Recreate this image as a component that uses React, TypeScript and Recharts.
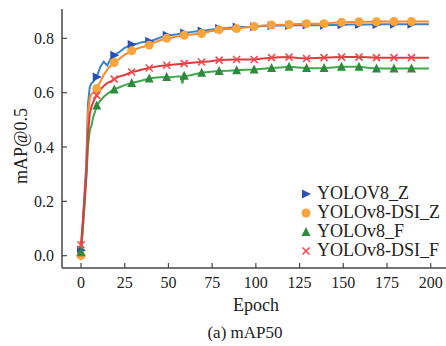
import React from 'react'
import { Line, LineChart, XAxis, YAxis } from 'recharts'

const epochs = [0, 1, 2, 3, 4, 5, 6, 7, 8, 9, 11, 13, 15, 17, 19, 22, 25, 29, 32, 35, 39, 42, 45, 49, 52, 55, 57, 58, 59, 62, 65, 69, 74, 79, 84, 89, 94, 99, 104, 109, 114, 119, 124, 129, 134, 139, 144, 149, 154, 159, 164, 169, 174, 179, 184, 189, 194, 199]

const yolov8Z = [0.02, 0.12, 0.23, 0.34, 0.56, 0.62, 0.635, 0.64, 0.65, 0.658, 0.695, 0.714, 0.7, 0.725, 0.738, 0.75, 0.765, 0.777, 0.78, 0.786, 0.789, 0.795, 0.802, 0.811, 0.812, 0.815, 0.818, 0.82, 0.82, 0.822, 0.825, 0.827, 0.832, 0.836, 0.838, 0.842, 0.842, 0.843, 0.845, 0.846, 0.847, 0.847, 0.848, 0.849, 0.848, 0.848, 0.849, 0.85, 0.851, 0.851, 0.851, 0.851, 0.852, 0.852, 0.852, 0.852, 0.852, 0.852]
const dsiZ = [0.0, 0.1, 0.2, 0.3, 0.52, 0.58, 0.595, 0.6, 0.61, 0.615, 0.64, 0.665, 0.685, 0.7, 0.711, 0.725, 0.74, 0.754, 0.762, 0.768, 0.775, 0.785, 0.792, 0.8, 0.803, 0.807, 0.809, 0.81, 0.811, 0.813, 0.815, 0.818, 0.826, 0.832, 0.834, 0.836, 0.84, 0.844, 0.847, 0.849, 0.85, 0.851, 0.853, 0.854, 0.854, 0.854, 0.857, 0.859, 0.86, 0.861, 0.861, 0.861, 0.862, 0.862, 0.862, 0.862, 0.862, 0.862]
const yolov8F = [0.013, 0.09, 0.18, 0.28, 0.4, 0.46, 0.48, 0.51, 0.53, 0.553, 0.57, 0.585, 0.595, 0.605, 0.612, 0.62, 0.628, 0.636, 0.64, 0.645, 0.652, 0.655, 0.657, 0.658, 0.657, 0.66, 0.66, 0.634, 0.662, 0.663, 0.668, 0.673, 0.677, 0.68, 0.681, 0.683, 0.684, 0.685, 0.688, 0.691, 0.693, 0.695, 0.693, 0.691, 0.69, 0.691, 0.693, 0.695, 0.695, 0.695, 0.692, 0.689, 0.689, 0.689, 0.689, 0.689, 0.689, 0.689]
const dsiF = [0.04, 0.12, 0.21, 0.3, 0.45, 0.52, 0.55, 0.565, 0.58, 0.59, 0.61, 0.625, 0.635, 0.642, 0.65, 0.66, 0.665, 0.676, 0.68, 0.685, 0.691, 0.695, 0.698, 0.701, 0.703, 0.705, 0.706, 0.706, 0.707, 0.709, 0.711, 0.713, 0.716, 0.72, 0.721, 0.722, 0.722, 0.722, 0.726, 0.729, 0.73, 0.731, 0.728, 0.726, 0.728, 0.729, 0.73, 0.731, 0.731, 0.731, 0.73, 0.729, 0.729, 0.729, 0.729, 0.729, 0.729, 0.729]

const markerEpochs = [0, 9, 19, 29, 39, 49, 59, 69, 79, 89, 99, 109, 119, 129, 139, 149, 159, 169, 179, 189]
const xTicks = [0, 25, 50, 75, 100, 125, 150, 175, 200]
const yTicks = [0, 0.2, 0.4, 0.6, 0.8]

const FONT = '"Liberation Serif", "Times New Roman", serif'
const AXIS = '#474747'

type Marker = 'tri-right' | 'circle' | 'tri-up' | 'cross'

const series: { key: string; name: string; line: string; fill: string; marker: Marker; values: number[] }[] = [
    { key: 'z', name: 'YOLOV8_Z', line: '#3b86c8', fill: '#2a4fb5', marker: 'tri-right', values: yolov8Z },
    { key: 'dz', name: 'YOLOv8-DSI_Z', line: '#fb8a2e', fill: '#f7a53c', marker: 'circle', values: dsiZ },
    { key: 'f', name: 'YOLOv8_F', line: '#3fa84a', fill: '#2f8a3f', marker: 'tri-up', values: yolov8F },
    { key: 'df', name: 'YOLOv8-DSI_F', line: '#de3c3c', fill: '#ee4a50', marker: 'cross', values: dsiF },
]

const data = epochs.map((epoch, i) => {
    const row: Record<string, number> = { epoch }
    series.forEach(s => { row[s.key] = s.values[i] })
    return row
})

function drawMarker(kind: Marker, cx: number, cy: number, color: string, key?: string) {
    if (kind === 'circle') return <circle key={key} cx={cx} cy={cy} r={4.5} fill={color} />
    if (kind === 'tri-right')
        return <polygon key={key} points={`${cx - 4},${cy - 4.5} ${cx + 5},${cy} ${cx - 4},${cy + 4.5}`} fill={color} />
    if (kind === 'tri-up')
        return <polygon key={key} points={`${cx},${cy - 5} ${cx + 4.5},${cy + 4} ${cx - 4.5},${cy + 4}`} fill={color} />
    return (
        <g key={key} stroke={color} strokeWidth={1.6}>
            <line x1={cx - 3.5} y1={cy - 3.5} x2={cx + 3.5} y2={cy + 3.5} />
            <line x1={cx - 3.5} y1={cy + 3.5} x2={cx + 3.5} y2={cy - 3.5} />
        </g>
    )
}

const XTick = ({ x, y, payload }: any) => (
    <g>
        <line x1={x} y1={y} x2={x} y2={y - 5} stroke={AXIS} strokeWidth={1.2} />
        <text x={x} y={y + 20} textAnchor="middle" fontFamily={FONT} fontSize={16} fill="#222">{payload.value}</text>
    </g>
)

const YTick = ({ x, y, payload }: any) => (
    <g>
        <line x1={x} y1={y} x2={x + 5} y2={y} stroke={AXIS} strokeWidth={1.2} />
        <text x={x - 8} y={y} dy="0.35em" textAnchor="end" fontFamily={FONT} fontSize={16} fill="#222">{payload.value.toFixed(1)}</text>
    </g>
)

const LegendBox = () => (
    <div style={{ position: 'absolute', left: 299, top: 184, fontFamily: FONT, fontSize: 18, color: '#222', lineHeight: '19px' }}>
        {series.map(s => (
            <div key={s.key} style={{ display: 'flex', alignItems: 'center', whiteSpace: 'nowrap' }}>
                <svg width={14} height={14} style={{ marginRight: 4 }}>{drawMarker(s.marker, 7, 7, s.fill)}</svg>
                <span>{s.name}</span>
            </div>
        ))}
    </div>
)

export default function App() {
    return (
        <div style={{ position: 'absolute', left: 0, top: 0, width: 446, height: 346 }}>
            <LineChart width={446} height={346} data={data} margin={{ top: 9, right: 0, bottom: 0, left: 0 }}>
                <XAxis
                    type="number"
                    dataKey="epoch"
                    domain={[-10.87, 208.75]}
                    ticks={xTicks}
                    allowDataOverflow
                    height={78}
                    tickSize={0}
                    tickMargin={0}
                    tickLine={false}
                    tick={<XTick />}
                    axisLine={{ stroke: AXIS, strokeWidth: 1.5 }}
                    label={{
                        content: ({ viewBox }: any) => (
                            <text x={viewBox.x + viewBox.width / 2 + 2} y={viewBox.y + 43} textAnchor="middle" fontFamily={FONT} fontSize={18} fill="#222">Epoch</text>
                        ),
                    }}
                />
                <YAxis
                    type="number"
                    domain={[-0.0453, 0.908]}
                    ticks={yTicks}
                    allowDataOverflow
                    width={62}
                    tickSize={0}
                    tickMargin={0}
                    tickLine={false}
                    tick={<YTick />}
                    axisLine={{ stroke: AXIS, strokeWidth: 1.5 }}
                    label={{
                        content: () => (
                            <text x={21} y={146} transform="rotate(-90 21 146)" textAnchor="middle" dominantBaseline="central" fontFamily={FONT} fontSize={18} fill="#222">mAP@0.5</text>
                        ),
                    }}
                />
                {series.map(s => (
                    <Line
                        key={s.key}
                        type="linear"
                        dataKey={s.key}
                        name={s.name}
                        stroke={s.line}
                        strokeWidth={2}
                        isAnimationActive={false}
                        activeDot={false}
                        dot={(p: any) =>
                            markerEpochs.includes(p.payload.epoch)
                                ? drawMarker(s.marker, p.cx, p.cy, s.fill, `${s.key}-${p.index}`)
                                : <g key={`${s.key}-${p.index}`} />
                        }
                    />
                ))}
            </LineChart>
            <LegendBox />
            <div style={{ position: 'absolute', left: 145, width: 200, top: 323, textAlign: 'center', fontFamily: FONT, fontSize: 17, color: '#222' }}>
                (a) mAP50
            </div>
        </div>
    )
}
